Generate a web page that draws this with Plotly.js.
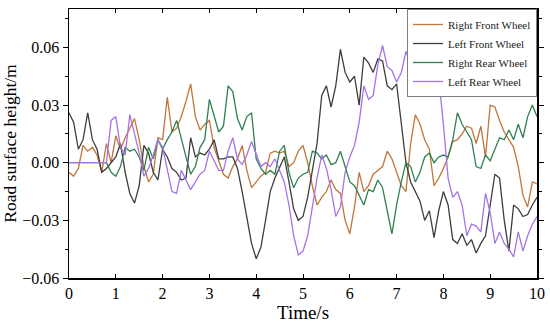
<!DOCTYPE html>
<html>
<head>
<meta charset="utf-8">
<script src="https://cdn.plot.ly/plotly-3.0.1.min.js"></script>
<style>html,body{margin:0;padding:0;background:#fff;}#chart{width:550px;height:328px;}</style>
</head>
<body>
<div id="chart"></div>
<script>
// Sampling: values every 0.1 s starting at t = 0 s
const tStart = 0;
const tStep = 0.1;

const seriesNames = ["Right Front Wheel", "Left Front Wheel", "Right Rear Wheel", "Left Rear Wheel"];

const rightFront = [
 -0.005,-0.007,-0.003,0.009,0.006,0.008,0.004,-0.005,0.010,0.000,
 0.014,0.007,0.013,0.018,0.023,0.012,-0.002,-0.010,-0.006,0.013,
 0.012,0.034,0.016,0.018,0.024,0.032,0.041,0.024,0.017,0.020,
 0.022,0.008,0.001,-0.006,-0.008,-0.002,0.002,0.009,-0.004,-0.013,
 -0.010,-0.007,-0.005,0.005,0.006,0.005,0.006,-0.002,0.000,0.006,
 0.009,0.000,-0.012,-0.022,-0.018,-0.015,-0.009,-0.014,-0.016,-0.030,
 -0.037,-0.023,-0.005,-0.015,-0.012,-0.006,-0.004,-0.002,0.006,0.002,
 -0.005,-0.012,-0.015,0.010,0.025,0.020,0.012,0.007,-0.012,-0.008,
 -0.003,0.003,0.011,0.012,0.015,0.019,0.018,0.010,0.019,0.003,
 0.030,0.029,0.022,0.016,0.012,0.008,-0.002,-0.017,-0.023,-0.010,
 -0.011
];

const leftFront = [
 0.026,0.021,0.007,0.012,0.026,0.012,0.007,-0.005,-0.003,0.000,
 0.003,0.010,-0.005,-0.016,-0.021,-0.012,0.009,0.005,-0.005,-0.009,
 0.007,0.003,-0.003,-0.005,-0.009,-0.008,0.013,0.003,0.005,0.004,
 0.007,0.012,0.002,0.002,0.003,0.003,-0.003,-0.015,-0.028,-0.042,
 -0.050,-0.044,-0.030,-0.015,-0.008,-0.002,0.003,-0.010,-0.024,-0.030,
 -0.028,-0.018,-0.004,0.010,0.035,0.040,0.029,0.040,0.059,0.047,
 0.042,0.045,0.030,0.055,0.052,0.047,0.054,0.053,0.040,0.038,
 0.041,0.020,0.000,-0.010,-0.015,-0.020,-0.030,-0.025,-0.039,-0.025,
 -0.015,-0.022,-0.040,-0.042,-0.037,-0.043,-0.040,-0.047,-0.042,-0.038,
 -0.022,-0.006,-0.008,-0.030,-0.046,-0.022,-0.024,-0.028,-0.027,-0.022,
 -0.018
];

const rightRear = [
 0,0,0,0,0,0,0,0,0,-0.005,
 -0.007,-0.002,0.008,0.006,0.007,0.003,-0.004,0.008,0.002,0.012,
 0.007,0.012,0.016,0.022,0.012,0.003,-0.006,-0.002,0.008,0.012,
 0.033,0.024,0.016,0.019,0.040,0.037,0.023,0.017,0.024,0.026,
 0.002,-0.003,-0.006,-0.004,-0.006,0.006,0.009,-0.005,-0.013,-0.008,
 -0.006,-0.005,0.006,0.005,0.002,0.004,-0.001,0.000,0.006,-0.002,
 -0.010,-0.012,-0.017,-0.022,-0.014,-0.015,-0.009,-0.013,-0.025,-0.037,
 -0.022,-0.010,0.000,-0.002,-0.010,-0.005,0.003,0.005,0.000,0.003,
 0.004,0.003,0.012,0.026,0.020,0.016,0.012,-0.002,-0.003,0.004,
 0.001,0.007,0.013,0.012,0.017,0.012,0.020,0.013,0.024,0.030,
 0.024
];

const leftRear = [
 0,0,0,0,0,0,0,0,0,0.022,
 0.024,0.008,0.004,0.025,0.015,0.005,-0.007,-0.003,0.004,0.012,
 0.008,-0.003,-0.015,-0.016,-0.004,-0.009,-0.014,-0.010,-0.006,-0.004,
 0.006,0.001,-0.004,-0.004,0.006,0.013,0.002,-0.001,0.004,0.011,
 0.005,-0.002,0.000,-0.002,0.002,-0.004,-0.010,-0.022,-0.038,-0.048,
 -0.046,-0.038,-0.022,-0.008,0.004,-0.003,-0.014,-0.028,-0.023,-0.005,
 0.003,0.009,0.021,0.040,0.033,0.035,0.051,0.061,0.050,0.048,
 0.042,0.047,0.058,0.051,0.052,0.050,0.042,0.035,0.040,0.044,
 0.020,-0.008,-0.018,-0.015,-0.022,-0.038,-0.032,-0.033,-0.036,-0.016,
 -0.026,-0.042,-0.036,-0.042,-0.045,-0.049,-0.036,-0.046,-0.038,-0.032,
 -0.028
];

const xTickVals = [0,1,2,3,4,5,6,7,8,9,10];
const yTickVals = [-0.06,-0.03,0,0.03,0.06];
const yTickText = ["\u22120.06","\u22120.03","0.00","0.03","0.06"];

const colors = ["#c0763a", "#3d3d3d", "#2f8050", "#a474e6"];
const allSeries = [rightFront, leftFront, rightRear, leftRear];

const traces = allSeries.map((vals, i) => ({
  type: "scatter",
  mode: "lines",
  name: seriesNames[i],
  x0: tStart,
  dx: tStep,
  y: vals,
  line: {color: colors[i], width: 1.3}
}));

const serif = "Liberation Serif, Times New Roman, serif";

const layout = {
  width: 550,
  height: 328,
  margin: {l: 69, r: 13, t: 9, b: 50},
  paper_bgcolor: "#ffffff",
  plot_bgcolor: "#ffffff",
  font: {family: serif, color: "#000"},
  showlegend: true,
  legend: {
    x: 1, xanchor: "right", y: 1, yanchor: "top",
    bgcolor: "#ffffff", bordercolor: "#7f7f7f", borderwidth: 1,
    font: {family: serif, size: 11, color: "#222"},
    tracegroupgap: 0, itemwidth: 30
  },
  xaxis: {
    range: [0, 10],
    tickvals: xTickVals,
    ticks: "inside", ticklen: 4, tickwidth: 1, tickcolor: "#000",
    showline: true, linecolor: "#000", linewidth: 1.5, mirror: "ticks",
    showgrid: false, zeroline: false,
    tickfont: {family: serif, size: 16, color: "#000"},
    title: {text: "Time/s", font: {family: serif, size: 19, color: "#000"}, standoff: 4}
  },
  yaxis: {
    range: [-0.06, 0.08],
    tickvals: yTickVals,
    ticktext: yTickText,
    ticks: "outside", ticklen: 5, tickwidth: 1, tickcolor: "#000",
    minor: {dtick: 0.015, tick0: 0, ticks: "outside", ticklen: 3, tickcolor: "#000"},
    showline: true, linecolor: "#000", linewidth: 1.5, mirror: "ticks",
    showgrid: false, zeroline: false,
    tickfont: {family: serif, size: 16, color: "#000"},
    title: {text: "Road surface height/m", font: {family: serif, size: 17.5, color: "#000"}, standoff: 8}
  }
};

Plotly.newPlot("chart", traces, layout, {displayModeBar: false, staticPlot: true});
</script>
</body>
</html>
